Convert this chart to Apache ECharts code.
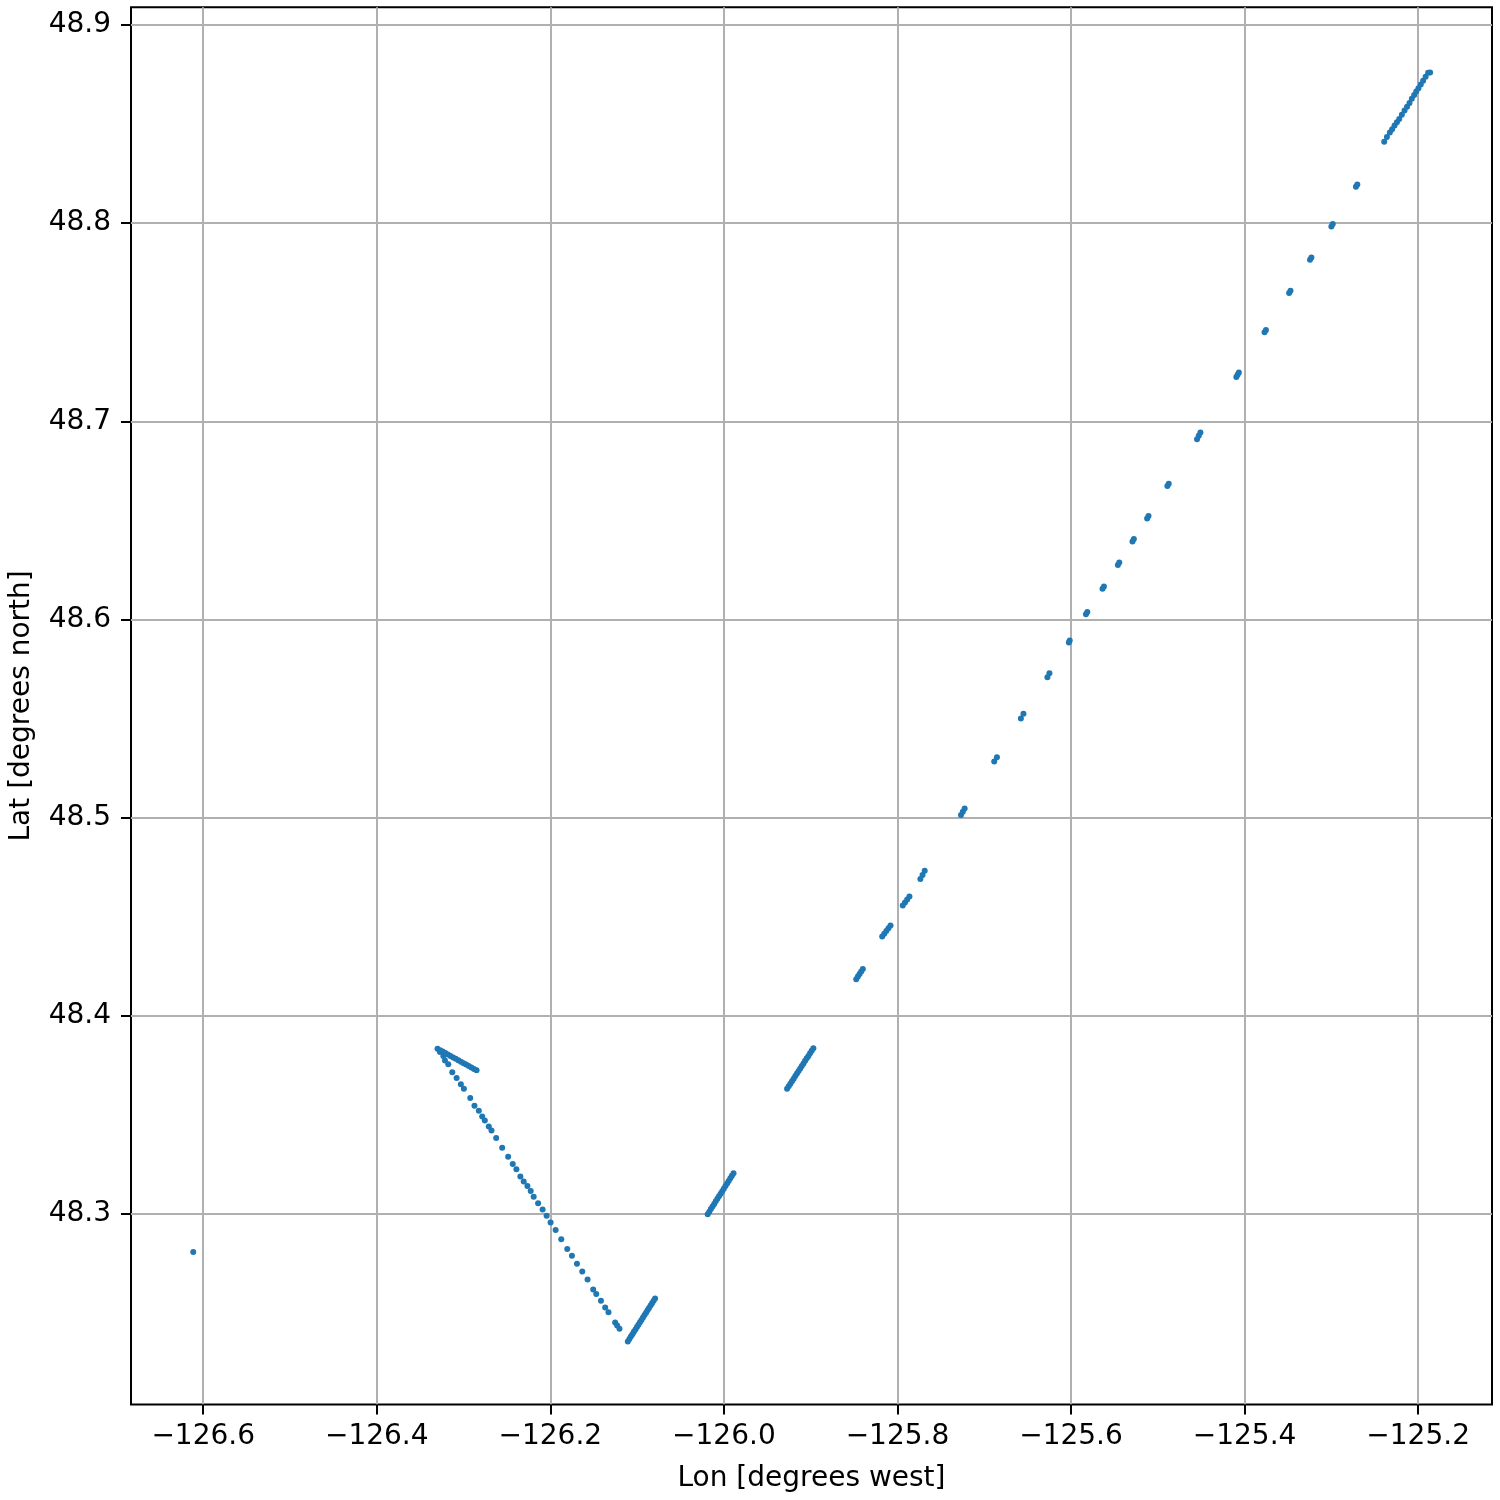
<!DOCTYPE html>
<html>
<head>
<meta charset="utf-8">
<script src="https://cdn.jsdelivr.net/npm/echarts@6/dist/echarts.min.js"></script>
<style>
html,body{margin:0;padding:0;background:#fff;}
#c{width:1500px;height:1500px;}
</style>
</head>
<body>
<div id="c"></div>
<script>
// ---- data (lon, lat) ----
const xTicks = [-126.6, -126.4, -126.2, -126.0, -125.8, -125.6, -125.4, -125.2];
const yTicks = [48.3, 48.4, 48.5, 48.6, 48.7, 48.8, 48.9];

const loneFix = [[-126.6115, 48.2809]];

const apexLeg = [
  [-126.3300, 48.3834], [-126.3272, 48.3818], [-126.3233, 48.3798], [-126.3214, 48.3775],
  [-126.3270, 48.3827], [-126.3240, 48.3820], [-126.3210, 48.3812], [-126.3180, 48.3805],
  [-126.3150, 48.3798], [-126.3120, 48.3790], [-126.3090, 48.3783], [-126.3060, 48.3776],
  [-126.3030, 48.3769], [-126.3000, 48.3761], [-126.2970, 48.3754], [-126.2940, 48.3747],
  [-126.2910, 48.3740], [-126.2880, 48.3732], [-126.2850, 48.3725]
];

const southLeg = [
  [-126.3176, 48.3756], [-126.3130, 48.3716], [-126.3080, 48.3686], [-126.3031, 48.3655],
  [-126.2996, 48.3632], [-126.2923, 48.3586], [-126.2874, 48.3546], [-126.2824, 48.3521],
  [-126.2785, 48.3492], [-126.2755, 48.3472], [-126.2709, 48.3442], [-126.2678, 48.3421],
  [-126.2624, 48.3384], [-126.2555, 48.3334], [-126.2486, 48.3289], [-126.2433, 48.3253],
  [-126.2391, 48.3226], [-126.2345, 48.3189], [-126.2307, 48.3164], [-126.2264, 48.3141],
  [-126.2226, 48.3116], [-126.2192, 48.3087], [-126.2141, 48.3055], [-126.2089, 48.3023],
  [-126.2043, 48.2992], [-126.1997, 48.2957], [-126.1939, 48.2919], [-126.1874, 48.2873],
  [-126.1805, 48.2824], [-126.1751, 48.2789], [-126.1693, 48.2749], [-126.1632, 48.2710],
  [-126.1571, 48.2670], [-126.1506, 48.2619], [-126.1471, 48.2597], [-126.1417, 48.2562],
  [-126.1368, 48.2528], [-126.1330, 48.2505], [-126.1253, 48.2453], [-126.1230, 48.2437],
  [-126.1203, 48.2421]
];

const turnLeg = [
  [-126.1107, 48.2357], [-126.1089, 48.2370], [-126.1072, 48.2382], [-126.1054, 48.2394],
  [-126.1037, 48.2406], [-126.1019, 48.2418], [-126.1002, 48.2430], [-126.0985, 48.2442],
  [-126.0967, 48.2454], [-126.0950, 48.2466], [-126.0932, 48.2478], [-126.0915, 48.2490],
  [-126.0897, 48.2502], [-126.0880, 48.2514], [-126.0863, 48.2526], [-126.0845, 48.2538],
  [-126.0828, 48.2550], [-126.0810, 48.2562], [-126.0793, 48.2574]
];

const legC = [
  [-126.0187, 48.2999], [-126.0168, 48.3012], [-126.0150, 48.3025], [-126.0131, 48.3038],
  [-126.0112, 48.3051], [-126.0094, 48.3064], [-126.0075, 48.3077], [-126.0057, 48.3090],
  [-126.0038, 48.3103], [-126.0019, 48.3115], [-126.0001, 48.3128], [-125.9982, 48.3141],
  [-125.9963, 48.3154], [-125.9945, 48.3167], [-125.9926, 48.3180], [-125.9908, 48.3193],
  [-125.9889, 48.3206]
];

const legD = [
  [-125.9272, 48.3632], [-125.9253, 48.3645], [-125.9234, 48.3658], [-125.9215, 48.3670],
  [-125.9196, 48.3683], [-125.9177, 48.3696], [-125.9158, 48.3709], [-125.9139, 48.3722],
  [-125.9120, 48.3734], [-125.9102, 48.3747], [-125.9083, 48.3760], [-125.9064, 48.3773],
  [-125.9045, 48.3786], [-125.9026, 48.3798], [-125.9007, 48.3811], [-125.8988, 48.3824],
  [-125.8969, 48.3837]
];

const northDashes = [
  [-125.8475, 48.4185], [-125.8456, 48.4198], [-125.8437, 48.4211], [-125.8418, 48.4224], [-125.8399, 48.4237],
  [-125.8176, 48.4400], [-125.8152, 48.4414], [-125.8128, 48.4428], [-125.8104, 48.4442], [-125.8080, 48.4456],
  [-125.7939, 48.4557], [-125.7913, 48.4572], [-125.7888, 48.4587], [-125.7862, 48.4602],
  [-125.7736, 48.4690], [-125.7711, 48.4711], [-125.7686, 48.4732],
  [-125.7268, 48.5014], [-125.7247, 48.5030], [-125.7226, 48.5046],
  [-125.6885, 48.5283], [-125.6854, 48.5305],
  [-125.6578, 48.5500], [-125.6548, 48.5524],
  [-125.6272, 48.5709], [-125.6249, 48.5729],
  [-125.6025, 48.5884], [-125.6015, 48.5894],
  [-125.5828, 48.6026], [-125.5812, 48.6038],
  [-125.5637, 48.6155], [-125.5621, 48.6167],
  [-125.5460, 48.6275], [-125.5444, 48.6287],
  [-125.5292, 48.6394], [-125.5276, 48.6406],
  [-125.5123, 48.6510], [-125.5107, 48.6522],
  [-125.4890, 48.6673], [-125.4874, 48.6685],
  [-125.4548, 48.6910], [-125.4528, 48.6927], [-125.4509, 48.6943],
  [-125.4095, 48.7223], [-125.4080, 48.7235], [-125.4066, 48.7246],
  [-125.3770, 48.7449], [-125.3754, 48.7461],
  [-125.3487, 48.7647], [-125.3471, 48.7659],
  [-125.3246, 48.7815], [-125.3230, 48.7827],
  [-125.3000, 48.7983], [-125.2984, 48.7995],
  [-125.2717, 48.8183], [-125.2701, 48.8195]
];

const northEnd = [
  [-125.2391, 48.8411], [-125.2360, 48.8434], [-125.2326, 48.8457], [-125.2300, 48.8474],
  [-125.2272, 48.8492], [-125.2245, 48.8509], [-125.2218, 48.8526], [-125.2188, 48.8547],
  [-125.2157, 48.8568], [-125.2128, 48.8587], [-125.2100, 48.8606], [-125.2073, 48.8627],
  [-125.2046, 48.8647], [-125.2022, 48.8664], [-125.1997, 48.8681], [-125.1970, 48.8700],
  [-125.1943, 48.8719], [-125.1914, 48.8739], [-125.1885, 48.8759], [-125.1862, 48.8760]
];

const allFixes = [].concat(loneFix, apexLeg, southLeg, turnLeg, legC, legD, northDashes, northEnd);

// ---- chart ----
const FONT = 'DejaVu Sans';
const fmt = v => (v < 0 ? '\u2212' : '') + Math.abs(v).toFixed(1);

const chart = echarts.init(document.getElementById('c'), null, {renderer: 'canvas'});
chart.setOption({
  backgroundColor: '#ffffff',
  animation: false,
  grid: {
    left: 128.7, right: 8, top: 7.3, bottom: 95.5,
    show: true, borderColor: '#000', borderWidth: 2, backgroundColor: 'transparent'
  },
  xAxis: {
    type: 'value',
    min: -126.6832, max: -125.1149,
    name: 'Lon [degrees west]',
    nameLocation: 'middle',
    nameGap: 60,
    nameTextStyle: {fontFamily: FONT, fontSize: 28, color: '#000'},
    axisLine: {show: false},
    axisTick: {show: true, inside: false, length: 10, lineStyle: {color: '#000', width: 2}, customValues: xTicks},
    axisLabel: {show: true, margin: 18, fontFamily: FONT, fontSize: 28, color: '#000', formatter: fmt, customValues: xTicks},
    splitLine: {show: true, lineStyle: {color: '#b0b0b0', width: 2}}
  },
  yAxis: {
    type: 'value',
    min: 48.2039, max: 48.9089,
    name: 'Lat [degrees north]',
    nameLocation: 'middle',
    nameGap: 95,
    nameTextStyle: {fontFamily: FONT, fontSize: 28, color: '#000'},
    axisLine: {show: false},
    axisTick: {show: true, inside: false, length: 10, lineStyle: {color: '#000', width: 2}, customValues: yTicks},
    axisLabel: {show: true, margin: 20, fontFamily: FONT, fontSize: 28, color: '#000', formatter: fmt, customValues: yTicks},
    splitLine: {show: true, lineStyle: {color: '#b0b0b0', width: 2}}
  },
  series: [{
    type: 'scatter',
    data: allFixes,
    symbol: 'circle',
    symbolSize: 6,
    itemStyle: {color: '#1f77b4', opacity: 1},
    z: 5
  }]
});
</script>
</body>
</html>
